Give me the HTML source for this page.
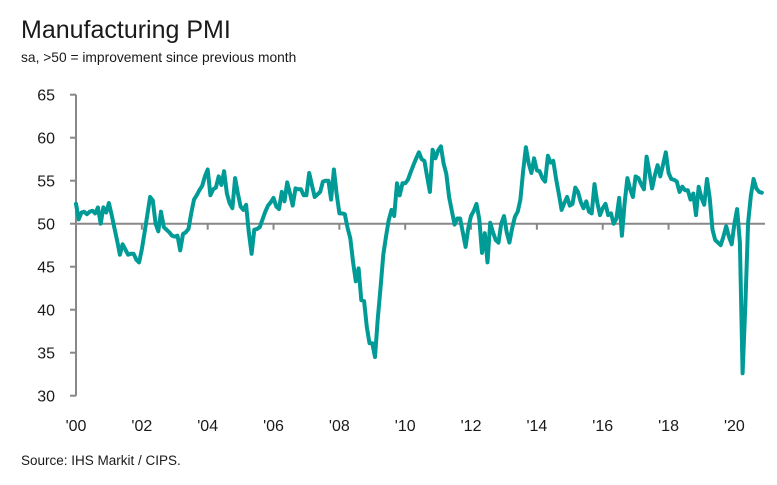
<!DOCTYPE html>
<html><head><meta charset="utf-8"><style>
body{margin:0;background:#fff;}
svg{display:block;font-family:"Liberation Sans",sans-serif;}
</style></head><body>
<svg id="chart" width="777" height="485" viewBox="0 0 777 485" xmlns="http://www.w3.org/2000/svg">
<text x="21" y="38" font-size="25" fill="#1a1a1a">Manufacturing PMI</text>
<text x="21" y="62" font-size="13.8" fill="#1a1a1a">sa, &gt;50 = improvement since previous month</text>
<text x="21" y="465" font-size="13.5" fill="#1a1a1a">Source: IHS Markit / CIPS.</text>
<g id="yaxis"></g>
<g id="xaxis"></g>
<g id="series"></g>
</svg>
<script>
const yTicks = [30, 35, 40, 45, 50, 55, 60, 65];
const xTickLabels = ["'00","'02","'04","'06","'08","'10","'12","'14","'16","'18","'20"];
const xTickYears = [0,2,4,6,8,10,12,14,16,18,20];
const pmi2000 = [52.3,50.5,51.3,51.4,51.1,51.4,51.5,51.2,51.9,50.0,51.9,51.3];
const pmi2001 = [52.4,51.0,49.5,48.0,46.4,47.6,47.0,46.4,46.5,46.5,45.8,45.5];
const pmi2002 = [47.0,49.0,51.0,53.1,52.7,50.0,49.1,51.4,49.6,49.3,49.0,48.6];
const pmi2003 = [48.5,48.6,46.9,48.8,49.0,49.4,51.2,52.8,53.3,53.9,54.4,55.5];
const pmi2004 = [56.3,53.3,54.0,54.2,55.5,54.5,56.1,53.5,52.4,51.8,55.3,53.5];
const pmi2005 = [52.0,51.6,52.2,49.0,46.5,49.3,49.4,49.6,50.5,51.4,52.1,52.5];
const pmi2006 = [53.0,52.0,51.7,53.7,52.6,54.8,53.5,52.1,54.1,54.0,54.0,53.3];
const pmi2007 = [53.3,55.9,54.5,53.1,53.4,53.7,54.9,55.0,55.0,52.8,56.3,53.5];
const pmi2008 = [51.2,51.2,51.1,49.5,48.3,45.5,43.3,44.8,41.1,41.0,38.0,36.1];
const pmi2009 = [36.1,34.5,39.0,42.5,46.4,48.5,50.4,51.6,50.9,54.7,53.3,54.7];
const pmi2010 = [54.7,55.1,56.0,56.8,57.6,58.3,57.5,57.3,55.5,53.7,58.6,57.6];
const pmi2011 = [58.5,59.0,57.0,55.8,53.1,51.5,49.9,50.6,50.6,49.0,47.3,49.5];
const pmi2012 = [50.9,51.5,52.3,50.5,46.6,48.9,45.5,50.1,49.0,48.1,47.8,50.0];
const pmi2013 = [50.9,49.0,47.8,49.5,50.8,51.4,52.8,56.2,58.9,57.0,55.9,57.6];
const pmi2014 = [56.2,56.1,55.3,54.9,57.9,57.1,57.3,55.2,53.5,51.6,52.4,53.1];
const pmi2015 = [52.1,52.3,54.2,53.7,52.5,51.8,52.6,51.4,51.2,54.6,52.5,51.0];
const pmi2016 = [51.8,52.3,51.0,51.2,50.0,50.6,53.0,48.6,52.5,55.3,54.0,53.1];
const pmi2017 = [55.5,55.3,54.6,54.0,57.8,56.0,54.1,55.6,56.8,55.5,56.9,58.3];
const pmi2018 = [55.9,55.2,55.1,54.9,53.7,54.3,53.9,53.9,52.8,53.5,51.0,54.3];
const pmi2019 = [53.0,52.2,55.2,53.0,49.3,48.1,47.8,47.5,48.5,49.7,48.5,47.6];
const pmi2020 = [50.0,51.7,47.8,32.6,40.7,50.1,53.3,55.2,54.1,53.7,53.6];

const values = [].concat(pmi2000,pmi2001,pmi2002,pmi2003,pmi2004,pmi2005,pmi2006,pmi2007,pmi2008,pmi2009,pmi2010,pmi2011,pmi2012,pmi2013,pmi2014,pmi2015,pmi2016,pmi2017,pmi2018,pmi2019,pmi2020);
const NS='http://www.w3.org/2000/svg';
const X0=76, YEARPX=32.92, YBASE=223.7, PXU=8.6;
function xScale(m){return X0 + m*YEARPX/12;}
function yScale(v){return YBASE - (v-50)*PXU;}
function mk(t,a){const e=document.createElementNS(NS,t);for(const k in a)e.setAttribute(k,a[k]);return e;}
const yg=document.getElementById('yaxis'), xg=document.getElementById('xaxis'), sg=document.getElementById('series');
yg.appendChild(mk('line',{x1:X0,x2:X0,y1:yScale(65),y2:yScale(30),stroke:'#888','stroke-width':2}));
yTicks.forEach(v=>{
  const y=yScale(v);
  const t=mk('line',{x1:X0-6,x2:X0,y1:y,y2:y,stroke:'#888','stroke-width':2});
  
  
  yg.appendChild(t);
  const l=mk('text',{x:55,y:y+6,'font-size':16,'text-anchor':'end',fill:'#1a1a1a'});
  l.textContent=v;
  
  
  yg.appendChild(l);
});
xg.appendChild(mk('line',{x1:X0,x2:765,y1:yScale(50),y2:yScale(50),stroke:'#888','stroke-width':2}));
xTickYears.forEach((yr,i)=>{
  const x=xScale(yr*12);
  if(i>0){
    const t=mk('line',{x1:x,x2:x,y1:yScale(50),y2:yScale(50)+6,stroke:'#888','stroke-width':2});
    
    
    xg.appendChild(t);
  }
  const l=mk('text',{x:x,y:431,'font-size':16,'text-anchor':'middle',fill:'#1a1a1a'});
  l.textContent=xTickLabels[i];
  
  
  xg.appendChild(l);
});
const pts=values.map((v,i)=>xScale(i).toFixed(1)+','+yScale(v).toFixed(1)).join(' ');
const line=mk('polyline',{points:pts,fill:'none',stroke:'#009b96','stroke-width':4,'stroke-linejoin':'round','stroke-linecap':'round'});


sg.appendChild(line);
</script>
</body></html>
